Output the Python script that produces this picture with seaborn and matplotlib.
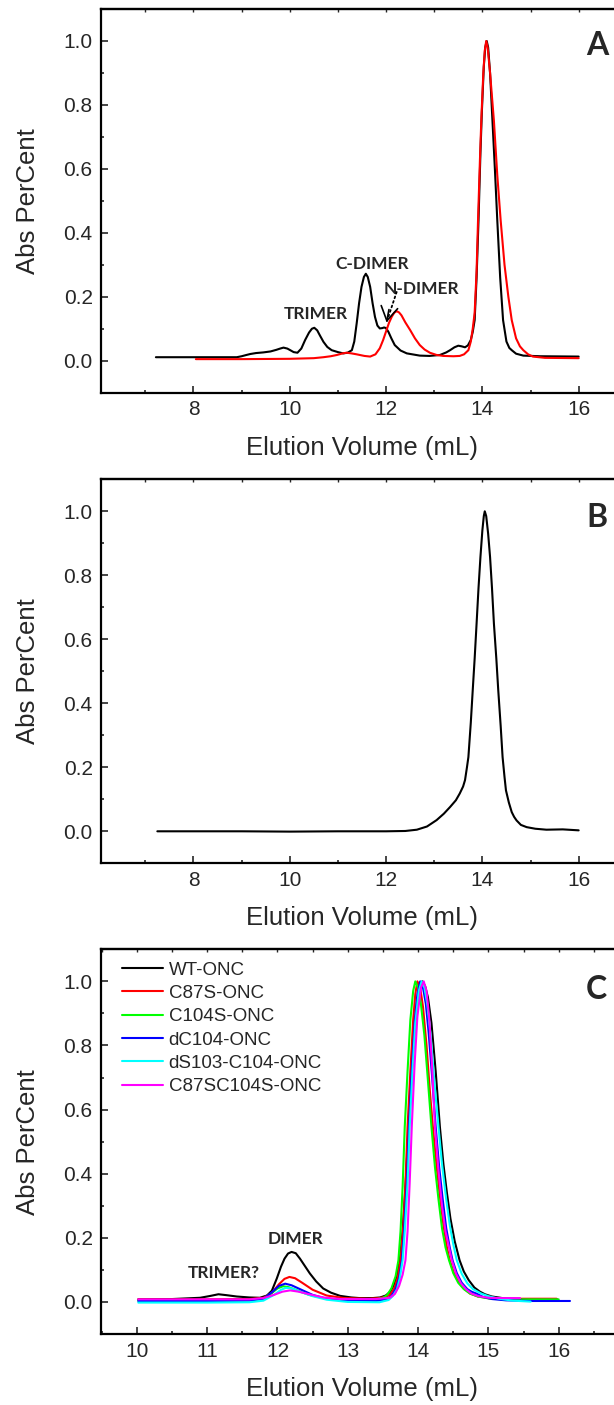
import matplotlib
matplotlib.use("Agg")
import matplotlib.pyplot as plt
import seaborn as sns
from matplotlib.ticker import MultipleLocator

# pannello A: due curve (nero e rosso)
a_black_x = [7.22, 8.9, 9.0, 9.1, 9.18, 9.3, 9.45, 9.6, 9.72, 9.8,
             9.87, 9.95, 10.01, 10.08, 10.16, 10.24, 10.32, 10.4, 10.46, 10.51,
             10.57, 10.63, 10.7, 10.78, 10.87, 11.0, 11.11, 11.2, 11.29, 11.34,
             11.39, 11.44, 11.49, 11.54, 11.58, 11.62, 11.67, 11.72, 11.77, 11.82,
             11.87, 11.92, 11.96, 12.0, 12.05, 12.11, 12.18, 12.3, 12.43, 12.7,
             12.9, 13.12, 13.25, 13.33, 13.42, 13.5, 13.57, 13.64, 13.7, 13.76,
             13.8, 13.84, 13.88, 13.92, 13.96, 13.99, 14.03, 14.06, 14.09, 14.12,
             14.16, 14.21, 14.26, 14.31, 14.37, 14.43, 14.5, 14.56, 14.61, 14.7,
             14.85, 15.2, 16.0]
a_black_y = [0.011, 0.011, 0.014, 0.018, 0.021, 0.024, 0.026, 0.029, 0.034, 0.038,
             0.041, 0.038, 0.033, 0.027, 0.025, 0.038, 0.065, 0.088, 0.1, 0.103,
             0.095, 0.078, 0.059, 0.043, 0.033, 0.027, 0.023, 0.025, 0.033, 0.06,
             0.117, 0.18, 0.231, 0.262, 0.272, 0.262, 0.231, 0.18, 0.137, 0.11,
             0.101, 0.102, 0.104, 0.102, 0.09, 0.07, 0.049, 0.032, 0.023, 0.016,
             0.015, 0.018, 0.026, 0.033, 0.042, 0.047, 0.045, 0.042, 0.048, 0.065,
             0.09, 0.127, 0.26, 0.439, 0.65, 0.78, 0.92, 0.98, 1.0, 0.98,
             0.9, 0.75, 0.6, 0.439, 0.26, 0.127, 0.06, 0.04, 0.033, 0.022,
             0.016, 0.014, 0.013]

a_red_x = [8.05, 9.0, 10.0, 10.5, 10.7, 10.85, 10.98, 11.1, 11.18, 11.28,
           11.39, 11.55, 11.67, 11.78, 11.87, 11.94, 12.01, 12.06, 12.12, 12.17,
           12.22, 12.27, 12.32, 12.4, 12.5, 12.6, 12.7, 12.8, 12.91, 13.05,
           13.19, 13.4, 13.53, 13.62, 13.71, 13.76, 13.8, 13.84, 13.88, 13.91,
           13.95, 13.98, 14.02, 14.05, 14.08, 14.11, 14.16, 14.24, 14.31, 14.38,
           14.46, 14.54, 14.61, 14.7, 14.78, 14.85, 14.95, 15.05, 15.3, 16.0]
a_red_y = [0.005, 0.005, 0.006, 0.008, 0.011, 0.014, 0.018, 0.023, 0.025, 0.023,
           0.02, 0.015, 0.013, 0.02, 0.039, 0.065, 0.096, 0.118, 0.138, 0.15,
           0.155, 0.151, 0.142, 0.12, 0.096, 0.07, 0.049, 0.035, 0.025, 0.018,
           0.015, 0.014, 0.015, 0.02, 0.033, 0.06, 0.1, 0.15, 0.28, 0.439,
           0.63, 0.76, 0.9, 0.97, 1.0, 0.98, 0.9, 0.75, 0.58, 0.439,
           0.3, 0.2, 0.127, 0.07, 0.045, 0.033, 0.02, 0.013, 0.009, 0.008]

# pannello B: una sola curva
b_x = [7.25, 9.0, 10.0, 11.0, 12.0, 12.4, 12.64, 12.85, 13.05, 13.2,
       13.33, 13.45, 13.53, 13.6, 13.64, 13.68, 13.71, 13.76, 13.8, 13.84,
       13.88, 13.92, 13.96, 14.0, 14.03, 14.05, 14.08, 14.12, 14.16, 14.2,
       14.24, 14.29, 14.33, 14.38, 14.42, 14.46, 14.49, 14.55, 14.61, 14.66,
       14.71, 14.8, 14.92, 15.1, 15.33, 15.67, 16.0]
b_y = [0.0, 0.0, -0.001, 0.0, 0.0, 0.001, 0.005, 0.015, 0.035, 0.055,
       0.076, 0.097, 0.118, 0.14, 0.16, 0.2, 0.232, 0.34, 0.441, 0.54,
       0.649, 0.76, 0.857, 0.94, 0.985, 1.0, 0.985, 0.93, 0.857, 0.76,
       0.649, 0.54, 0.441, 0.33, 0.232, 0.17, 0.128, 0.09, 0.06, 0.045,
       0.034, 0.02, 0.013, 0.008, 0.005, 0.006, 0.003]

# pannello C: sei mutanti
c_wt_x = [10.02, 10.5, 10.9, 11.05, 11.16, 11.28, 11.42, 11.6, 11.75, 11.85,
          11.92, 11.99, 12.05, 12.1, 12.15, 12.2, 12.26, 12.32, 12.39, 12.46,
          12.55, 12.65, 12.76, 12.89, 13.05, 13.17, 13.35, 13.46, 13.54, 13.6,
          13.65, 13.7, 13.74, 13.78, 13.82, 13.86, 13.9, 13.94, 13.98, 14.02,
          14.06, 14.1, 14.14, 14.19, 14.25, 14.31, 14.36, 14.41, 14.46, 14.52,
          14.59, 14.65, 14.72, 14.8, 14.88, 14.95, 15.05, 15.2, 15.4, 15.7,
          15.97]
c_wt_y = [0.008, 0.009, 0.013, 0.019, 0.024, 0.021, 0.017, 0.014, 0.013, 0.02,
          0.035, 0.073, 0.11, 0.135, 0.151, 0.156, 0.152, 0.135, 0.112, 0.089,
          0.064, 0.042, 0.029, 0.019, 0.014, 0.012, 0.012, 0.014, 0.02, 0.031,
          0.05, 0.085, 0.13, 0.22, 0.36, 0.52, 0.68, 0.82, 0.93, 0.985,
          1.0, 0.985, 0.95, 0.87, 0.72, 0.546, 0.43, 0.34, 0.26, 0.19,
          0.13, 0.095, 0.068, 0.045, 0.032, 0.024, 0.017, 0.012, 0.009, 0.008,
          0.008]

c_c87s_x = [10.02, 11.0, 11.6, 11.8, 11.92, 12.02, 12.1, 12.17, 12.25, 12.35,
            12.5, 12.7, 12.95, 13.3, 13.45, 13.55, 13.6, 13.66, 13.71, 13.75,
            13.79, 13.82, 13.85, 13.89, 13.93, 13.96, 13.99, 14.03, 14.07, 14.12,
            14.17, 14.21, 14.26, 14.31, 14.36, 14.41, 14.45, 14.51, 14.58, 14.66,
            14.74, 14.85, 15.0, 15.2, 15.5, 15.97, 15.99]
c_c87s_y = [0.008, 0.008, 0.009, 0.013, 0.028, 0.055, 0.072, 0.078, 0.074, 0.06,
            0.038, 0.02, 0.012, 0.01, 0.012, 0.017, 0.022, 0.042, 0.075, 0.13,
            0.24, 0.37, 0.546, 0.72, 0.88, 0.96, 1.0, 0.98, 0.92, 0.8,
            0.65, 0.546, 0.43, 0.33, 0.24, 0.17, 0.13, 0.09, 0.06, 0.04,
            0.026, 0.017, 0.012, 0.01, 0.01, 0.01, 0.005]

c_c104s_x = [10.02, 11.0, 11.6, 11.8, 11.92, 12.0, 12.08, 12.16, 12.28, 12.45,
             12.7, 13.0, 13.35, 13.5, 13.56, 13.62, 13.68, 13.72, 13.75, 13.78,
             13.81, 13.85, 13.89, 13.93, 13.96, 14.0, 14.04, 14.09, 14.14, 14.19,
             14.24, 14.29, 14.34, 14.39, 14.44, 14.5, 14.57, 14.65, 14.74, 14.85,
             15.0, 15.2, 15.5, 16.0]
c_c104s_y = [0.004, 0.004, 0.005, 0.01, 0.028, 0.042, 0.049, 0.046, 0.036, 0.022,
             0.01, 0.006, 0.006, 0.012, 0.022, 0.042, 0.08, 0.13, 0.22, 0.36,
             0.546, 0.72, 0.88, 0.97, 1.0, 0.98, 0.93, 0.83, 0.69, 0.546,
             0.42, 0.32, 0.23, 0.17, 0.13, 0.09, 0.06, 0.04, 0.026, 0.017,
             0.011, 0.008, 0.008, 0.008]

c_dc104_x = [10.02, 11.0, 11.6, 11.8, 11.92, 12.02, 12.11, 12.2, 12.32, 12.5,
             12.7, 13.0, 13.4, 13.55, 13.62, 13.68, 13.73, 13.77, 13.8, 13.84,
             13.87, 13.91, 13.95, 13.99, 14.03, 14.07, 14.11, 14.15, 14.2, 14.25,
             14.3, 14.35, 14.4, 14.45, 14.49, 14.55, 14.62, 14.7, 14.76, 14.83,
             14.92, 15.05, 15.25, 15.6, 16.16]
c_dc104_y = [0.003, 0.003, 0.004, 0.01, 0.03, 0.05, 0.057, 0.052, 0.04, 0.022,
             0.01, 0.004, 0.003, 0.008, 0.018, 0.04, 0.075, 0.13, 0.22, 0.37,
             0.546, 0.72, 0.87, 0.96, 1.0, 0.98, 0.93, 0.84, 0.7, 0.546,
             0.42, 0.32, 0.23, 0.17, 0.13, 0.09, 0.06, 0.04, 0.032, 0.026,
             0.016, 0.009, 0.005, 0.003, 0.003]

c_ds103_x = [10.02, 11.0, 11.6, 11.8, 11.95, 12.05, 12.12, 12.2, 12.32, 12.5,
             12.7, 13.0, 13.45, 13.58, 13.64, 13.7, 13.74, 13.78, 13.81, 13.85,
             13.88, 13.92, 13.96, 14.01, 14.05, 14.09, 14.13, 14.18, 14.23, 14.29,
             14.34, 14.4, 14.45, 14.5, 14.55, 14.62, 14.7, 14.78, 14.9, 15.0,
             15.15, 15.35, 15.6]
c_ds103_y = [-0.002, -0.002, -0.001, 0.004, 0.022, 0.038, 0.044, 0.042, 0.032, 0.018,
             0.007, 0.0, -0.001, 0.006, 0.018, 0.04, 0.075, 0.13, 0.22, 0.37,
             0.546, 0.72, 0.87, 0.97, 1.0, 0.98, 0.93, 0.83, 0.69, 0.546,
             0.43, 0.32, 0.24, 0.18, 0.13, 0.088, 0.058, 0.04, 0.026, 0.018,
             0.01, 0.004, 0.001]

c_dm_x = [10.02, 11.0, 11.6, 11.8, 11.95, 12.07, 12.18, 12.3, 12.45, 12.65,
          12.9, 13.4, 13.6, 13.67, 13.73, 13.78, 13.82, 13.85, 13.88, 13.91,
          13.95, 13.99, 14.04, 14.08, 14.12, 14.16, 14.2, 14.24, 14.29, 14.34,
          14.39, 14.44, 14.48, 14.54, 14.61, 14.68, 14.76, 14.86, 15.0, 15.2,
          15.45]
c_dm_y = [0.008, 0.008, 0.008, 0.012, 0.022, 0.032, 0.036, 0.032, 0.024, 0.014,
          0.009, 0.009, 0.013, 0.025, 0.05, 0.085, 0.13, 0.22, 0.37, 0.546,
          0.74, 0.89, 0.98, 1.0, 0.97, 0.88, 0.73, 0.546, 0.41, 0.3,
          0.22, 0.17, 0.13, 0.088, 0.058, 0.04, 0.026, 0.018, 0.013, 0.012,
          0.012]

c_labels = ["WT-ONC", "C87S-ONC", "C104S-ONC", "dC104-ONC", "dS103-C104-ONC", "C87SC104S-ONC"]
c_colors = ["#000000", "#ff0000", "#00ff00", "#0000ff", "#00ffff", "#ff00ff"]
c_xs = [c_wt_x, c_c87s_x, c_c104s_x, c_dc104_x, c_ds103_x, c_dm_x]
c_ys = [c_wt_y, c_c87s_y, c_c104s_y, c_dc104_y, c_ds103_y, c_dm_y]

sns.set_style("ticks")
plt.rcParams['font.family'] = ['Liberation Sans', 'DejaVu Sans']

fig = plt.figure(figsize=(6.14, 14.05), dpi=100)
W, H = 614, 1405
left = 101 / W
width = 521 / W


def make_axes(top_px, bottom_px):
    return fig.add_axes([left, 1 - bottom_px / H, width, (bottom_px - top_px) / H])


def stile(ax, xlim, major, minor):
    ax.set_xlim(*xlim)
    ax.set_ylim(-0.1, 1.1)
    ax.xaxis.set_major_locator(MultipleLocator(major))
    ax.xaxis.set_minor_locator(MultipleLocator(minor))
    ax.yaxis.set_major_locator(MultipleLocator(0.2))
    ax.yaxis.set_minor_locator(MultipleLocator(0.1))
    ax.yaxis.set_major_formatter(plt.FormatStrFormatter('%.1f'))
    ax.tick_params(which='major', direction='in', length=5, width=1.2,
                   labelsize=15, top=False, right=False)
    ax.tick_params(which='minor', direction='in', length=2.5, width=1.2,
                   top=False, right=False)
    ax.tick_params(axis='y', pad=6)
    ax.tick_params(axis='x', pad=5.5)
    for s in ax.spines.values():
        s.set_linewidth(1.6)
        s.set_color('black')
    # tacche corte sul bordo superiore
    sec = ax.secondary_xaxis('top')
    sec.xaxis.set_major_locator(MultipleLocator(major))
    sec.xaxis.set_minor_locator(MultipleLocator(minor))
    sec.tick_params(which='both', direction='in', length=2, width=1, labeltop=False)
    sec.spines['top'].set_linewidth(1.6)
    ax.set_xlabel('Elution Volume (mL)', fontsize=18.5)
    ax.set_ylabel('Abs PerCent', fontsize=18.5)
    ax.xaxis.set_label_coords(0.5, -0.112)
    ax.yaxis.set_label_coords(-0.118, 0.5)


bold = dict(family=['Lato', 'DejaVu Sans'], fontweight='bold')

# A
axA = make_axes(9, 392.7)
sns.lineplot(x=a_black_x, y=a_black_y, ax=axA, color='black', lw=1.5, sort=False, estimator=None)
sns.lineplot(x=a_red_x, y=a_red_y, ax=axA, color='#ff0000', lw=1.5, sort=False, estimator=None)
stile(axA, (6.08, 16.9), 2, 1)
axA.text(10.55, 0.13, 'TRIMER', ha='center', va='baseline', fontsize=12.5, **bold)
axA.text(11.71, 0.288, 'C-DIMER', ha='center', va='baseline', fontsize=12.5, **bold)
axA.text(12.745, 0.21, 'N-DIMER', ha='center', va='baseline', fontsize=12.5, **bold)
axA.annotate('', xy=(12.01, 0.12), xytext=(12.22, 0.215),
             arrowprops=dict(arrowstyle='-', ls=':', lw=1.3, color='black',
                             shrinkA=0, shrinkB=0))
axA.annotate('', xy=(12.01, 0.12), xytext=(12.06, 0.16),
             arrowprops=dict(arrowstyle='->,head_length=1.0,head_width=0.6', lw=1.2,
                             color='black', shrinkA=0, shrinkB=0, mutation_scale=10))

# B
axB = make_axes(479.3, 863.3)
sns.lineplot(x=b_x, y=b_y, ax=axB, color='black', lw=1.5, sort=False, estimator=None)
stile(axB, (6.08, 16.9), 2, 1)

# C
axC = make_axes(949.3, 1334)
for xs, ys, lab, col in zip(c_xs, c_ys, c_labels, c_colors):
    sns.lineplot(x=xs, y=ys, ax=axC, color=col, lw=1.5, sort=False, estimator=None, label=lab)
stile(axC, (9.49, 16.9), 1, 0.5)
axC.text(12.255, 0.182, 'DIMER', ha='center', va='baseline', fontsize=12.5, **bold)
axC.text(11.24, 0.076, 'TRIMER?', ha='center', va='baseline', fontsize=12.5, **bold)
axC.legend(loc='upper left', bbox_to_anchor=(0.04, 0.968), frameon=False,
           fontsize=13.5, handlelength=2.2, handletextpad=0.3, labelspacing=0.33,
           borderpad=0, borderaxespad=0)

# lettere dei pannelli
for lettera, base in [('A', 55), ('B', 526.7), ('C', 999)]:
    fig.text(586 / W, 1 - base / H, lettera, ha='left', va='baseline', fontsize=23, **bold)

fig.savefig('out.png', dpi=100)
